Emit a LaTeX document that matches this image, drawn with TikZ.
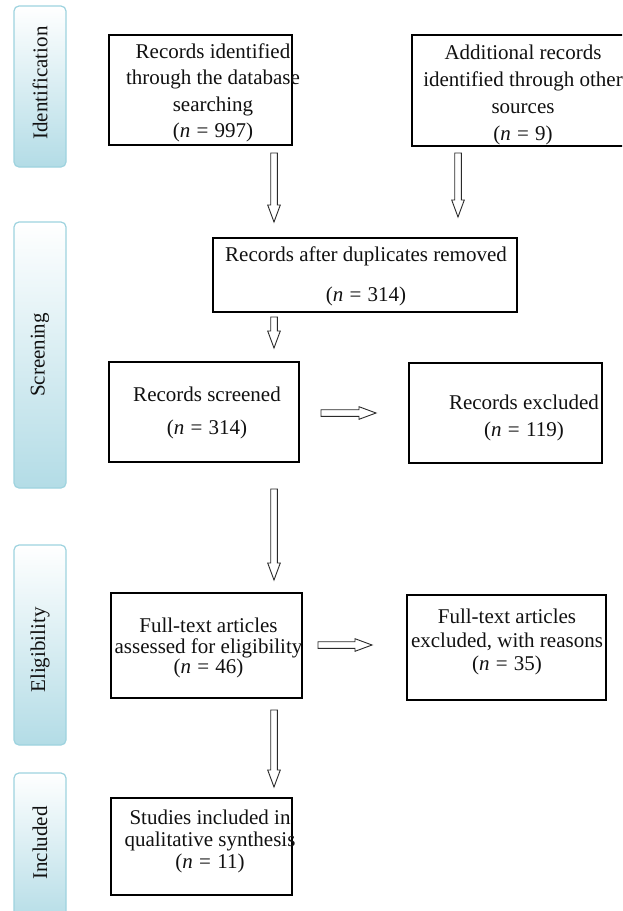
\documentclass[tikz,border=0pt]{standalone}
\usepackage{fontspec}
\setmainfont{Liberation Serif}
\usetikzlibrary{calc}
\definecolor{sideline}{HTML}{9ED3DF}
\definecolor{sidefill}{HTML}{B3DCE6}
\definecolor{arrgray}{HTML}{2A2A2A}
\definecolor{ink}{HTML}{111111}
\tikzset{
  box/.style={draw=black, line width=1.2pt, inner sep=0pt},
  txt/.style={align=center, inner sep=0pt, text=ink, font=\fontsize{21}{#1}\selectfont},
  txt/.default=24,
  side/.style={draw=sideline, line width=1.2pt, rounded corners=5pt, top color=white, bottom color=sidefill},
  sidetxt/.style={rotate=90, inner sep=0pt, text=ink, font=\fontsize{21}{24}\selectfont},
  arrline/.style={draw=arrgray, line width=0.9pt, fill=white, line join=miter},
}
\newcommand\hollowarrow[2]{%
  \coordinate (hab) at ($(#2)!17pt!(#1)$);
  \draw[arrline] ($(#1)!3.3pt!90:(#2)$) -- ($(hab)!3.3pt!90:(#2)$) -- ($(hab)!6.3pt!90:(#2)$) -- (#2)
    -- ($(hab)!6.3pt!-90:(#2)$) -- ($(hab)!3.3pt!-90:(#2)$) -- ($(#1)!3.3pt!-90:(#2)$) -- cycle;}
\newcommand\eqn[1]{(\textit{n}\hspace{0.3em}=\hspace{0.3em}#1)}
\begin{document}
\begin{tikzpicture}[x=1pt, y=-1pt]
\useasboundingbox (0,0) rectangle (622,911);
\clip (0,0) rectangle (622,911);
\fill[white] (0,0) rectangle (622,911);

% side phase bars
\shade[side] (14,6) rectangle (66,167);
\node[sidetxt] (lid) at (40,83) {Identification};
\shade[side] (14,222) rectangle (66,488);
\node[sidetxt] (lsc) at (40,355) {Screening};
\shade[side] (14,545) rectangle (66,745);
\node[sidetxt] (lel) at (40,650) {Eligibility};
\shade[side] (14,773) rectangle (66,925);
\node[sidetxt] (lin) at (40,843) {Included};

% boxes
\node[box, minimum width=183pt, minimum height=110pt] (b1) at (200.5,90) {};
\node[txt=26.5] (t1) at (213,93) {Records identified\\through the database\\searching\\\eqn{997}};

\node[box, minimum width=222pt, minimum height=111pt] (b2) at (523,90.5) {};
\node[txt=27] (t2) at (523,95) {Additional records\\identified through other\\sources\\\eqn{9}};

\node[box, minimum width=304pt, minimum height=74pt] (b3) at (365,275) {};
\node[txt=40] (t3) at (366,276) {Records after duplicates removed\\\eqn{314}};

\node[box, minimum width=190pt, minimum height=100pt] (b4) at (204,412) {};
\node[txt=33] (t4) at (207,412.5) {Records screened\\\eqn{314}};

\node[box, minimum width=193pt, minimum height=100pt] (b5) at (505.5,413) {};
\node[txt=27] (t5) at (524,417.5) {Records excluded\\\eqn{119}};

\node[box, minimum width=191pt, minimum height=105pt] (b6) at (206.5,645.5) {};
\node[txt=20.5] (t6) at (208.5,648) {Full-text articles\\assessed for eligibility\\\eqn{46}};

\node[box, minimum width=199pt, minimum height=105pt] (b7) at (506.5,647.5) {};
\node[txt=23.5] (t7) at (507,642) {Full-text articles\\excluded, with reasons\\\eqn{35}};

\node[box, minimum width=181pt, minimum height=97pt] (b8) at (201.5,846.5) {};
\node[txt=22] (t8) at (210,841) {Studies included in\\qualitative synthesis\\\eqn{11}};

% arrow end points
\coordinate (a1s) at (274,153); \coordinate (a1e) at (274,222);
\coordinate (a2s) at (458,153); \coordinate (a2e) at (458,217);
\coordinate (a3s) at (274,317); \coordinate (a3e) at (274,348);
\coordinate (a4s) at (274,489); \coordinate (a4e) at (274,580);
\coordinate (a5s) at (274,710); \coordinate (a5e) at (274,787);
\coordinate (h1s) at (321,413); \coordinate (h1e) at (376,413);
\coordinate (h2s) at (318,645); \coordinate (h2e) at (372,645);

\hollowarrow{a1s}{a1e}
\hollowarrow{a2s}{a2e}
\hollowarrow{a3s}{a3e}
\hollowarrow{a4s}{a4e}
\hollowarrow{a5s}{a5e}
\hollowarrow{h1s}{h1e}
\hollowarrow{h2s}{h2e}
\end{tikzpicture}
\end{document}
